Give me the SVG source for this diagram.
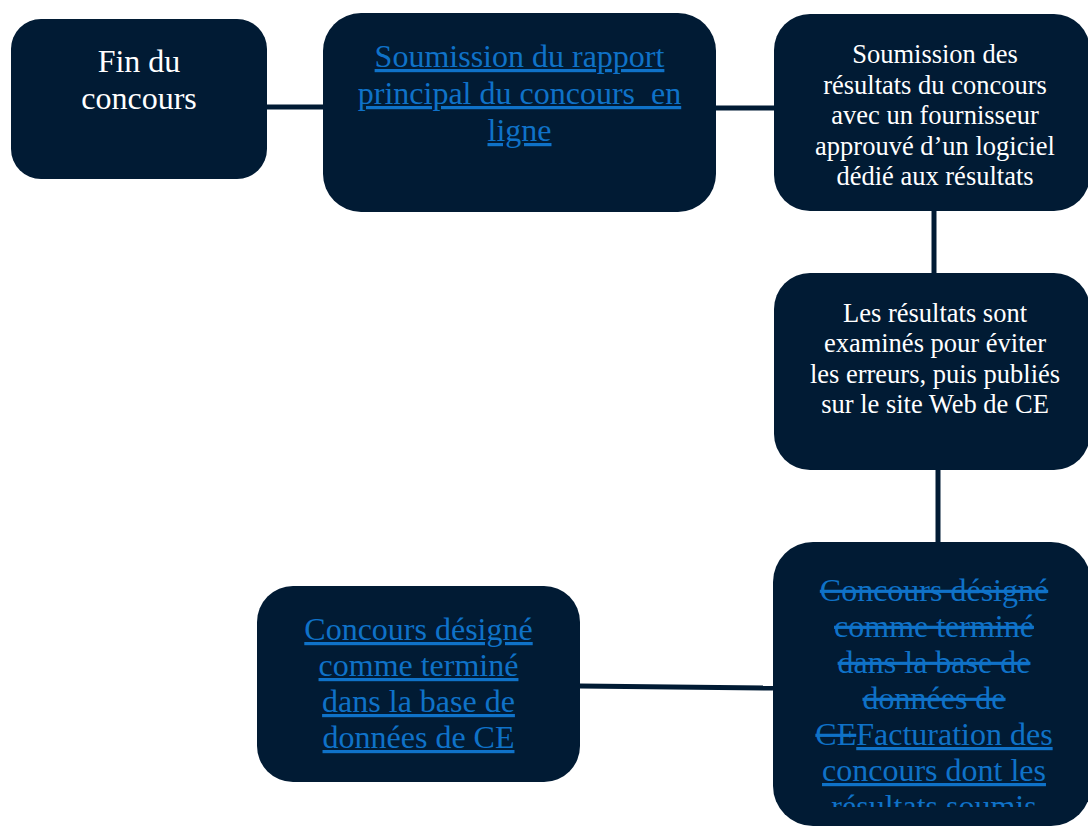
<svg xmlns="http://www.w3.org/2000/svg" width="1088" height="828" viewBox="0 0 1088 828">
<style>
.box{fill:#011b34;}
.con{stroke:#011b34;stroke-width:5;fill:none;}
.t{font-family:"Liberation Serif","Times New Roman",serif;text-anchor:middle;}
.w{fill:#ffffff;}
.lk{fill:#0f72c8;text-decoration:underline;}
.del{fill:#0f72c8;text-decoration:line-through;}
.big{font-size:32px;}
.sm{font-size:26.5px;}
</style>
<defs>
<clipPath id="clip5"><rect x="773" y="542" width="320" height="265"/></clipPath>
</defs>
<rect width="1088" height="828" fill="#ffffff"/>
<g id="connectors">
<line class="con" x1="267" y1="107" x2="323" y2="107"/>
<line class="con" x1="716" y1="108" x2="774" y2="108"/>
<line class="con" x1="934" y1="211" x2="934" y2="273"/>
<line class="con" x1="938" y1="469" x2="938" y2="543"/>
<line class="con" x1="580" y1="686" x2="773" y2="688"/>
</g>
<g id="node1">
<rect class="box" x="11" y="19" width="256" height="160" rx="30"/>
<text class="t w big"><tspan x="139" y="72">Fin du</tspan><tspan x="139" y="109">concours</tspan></text>
</g>
<g id="node2">
<rect class="box" x="323" y="13" width="393" height="199" rx="38"/>
<text class="t lk big"><tspan x="519.5" y="67">Soumission du rapport</tspan><tspan x="519.5" y="104" xml:space="preserve">principal du concours  en</tspan><tspan x="519.5" y="141">ligne</tspan></text>
</g>
<g id="node3">
<rect class="box" x="774" y="14" width="316" height="197" rx="36"/>
<text class="t w sm"><tspan x="935" y="63">Soumission des</tspan><tspan x="935" y="93.5">résultats du concours</tspan><tspan x="935" y="124">avec un fournisseur</tspan><tspan x="935" y="154.5">approuvé d’un logiciel</tspan><tspan x="935" y="185">dédié aux résultats</tspan></text>
</g>
<g id="node4">
<rect class="box" x="774" y="273" width="316" height="197" rx="36"/>
<text class="t w sm"><tspan x="935" y="322">Les résultats sont</tspan><tspan x="935" y="352">examinés pour éviter</tspan><tspan x="935" y="383">les erreurs, puis publiés</tspan><tspan x="935" y="413">sur le site Web de CE</tspan></text>
</g>
<g id="node5">
<rect class="box" x="773" y="542" width="318" height="284" rx="40"/>
<g clip-path="url(#clip5)">
<text class="t big"><tspan class="del" x="934" y="601">Concours désigné</tspan><tspan class="del" x="934" y="637">comme terminé</tspan><tspan class="del" x="934" y="673">dans la base de</tspan><tspan class="del" x="934" y="709">données de</tspan><tspan x="934" y="745"><tspan class="del">CE</tspan><tspan class="lk">Facturation des</tspan></tspan><tspan class="lk" x="934" y="781">concours dont les</tspan><tspan class="lk" x="934" y="817">résultats soumis</tspan></text>
</g>
</g>
<g id="node6">
<rect class="box" x="257" y="586" width="323" height="196" rx="36"/>
<text class="t lk big"><tspan x="418.5" y="640">Concours désigné</tspan><tspan x="418.5" y="676">comme terminé</tspan><tspan x="418.5" y="712">dans la base de</tspan><tspan x="418.5" y="748">données de CE</tspan></text>
</g>
</svg>
